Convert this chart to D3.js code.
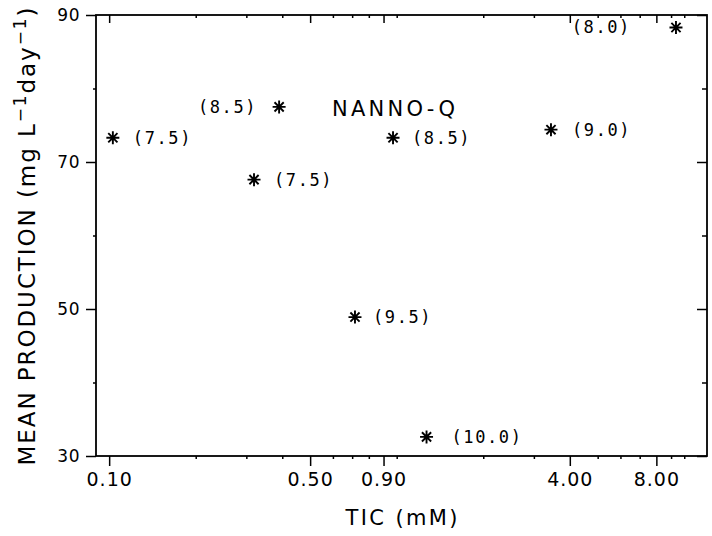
<!DOCTYPE html>
<html>
<head>
<meta charset="utf-8">
<script src="https://cdn.jsdelivr.net/npm/d3@7"></script>
<style>
  html, body { margin: 0; padding: 0; background: #fff; }
  svg { display: block; }
  text { fill: #000; }
</style>
</head>
<body>
<svg id="chart" width="712" height="536"></svg>
<script>
// ---- data ----
const tic        = [0.103, 0.390, 0.319, 0.971, 3.44, 9.36, 0.716, 1.27];
const production = [73.3, 77.5, 67.6, 73.3, 74.4, 88.3, 48.9, 32.6];
const phLabels   = ["(7.5)", "(8.5)", "(7.5)", "(8.5)", "(9.0)", "(8.0)", "(9.5)", "(10.0)"];
const xTickValues = [0.10, 0.50, 0.90, 4.00, 8.00];
const yTickValues = [30, 50, 70, 90];
const yMinorValues = [40, 60, 80];
const seriesName = "NANNO-Q";

// ---- layout (not data) ----
const labelDx = [20, -22, 20, 19, 21, -45, 18, 25];
const L = 96, R = 707, T = 15, B = 456;

const svg = d3.select("#chart");
const x = d3.scaleLog().domain([0.09, 12]).range([L, R]);
const y = d3.scaleLinear().domain([30, 90]).range([B, T]);

const xMinor = d3.range(1, 10).map(d => d / 10).concat(d3.range(1, 11))
  .filter(v => !xTickValues.some(t => Math.abs(t - v) < 1e-9));

const font = "'DejaVu Sans', sans-serif";

// bottom axis
const gB = svg.append("g").attr("transform", `translate(0,${B})`);
gB.call(d3.axisBottom(x).tickValues(xTickValues).tickFormat(d3.format(".2f")).tickSize(10).tickSizeOuter(0).tickPadding(7));
gB.append("g").call(d3.axisBottom(x).tickValues(xMinor).tickSize(3).tickFormat("").tickSizeOuter(0));
// top axis (inward)
const gT = svg.append("g").attr("transform", `translate(0,${T})`);
gT.call(d3.axisBottom(x).tickValues(xTickValues).tickFormat("").tickSize(8).tickSizeOuter(0));
gT.append("g").call(d3.axisBottom(x).tickValues(xMinor).tickFormat("").tickSize(3).tickSizeOuter(0));
// left axis
const gL = svg.append("g").attr("transform", `translate(${L},0)`);
gL.call(d3.axisLeft(y).tickValues(yTickValues).tickFormat(d3.format("d")).tickSize(10).tickSizeOuter(0).tickPadding(6));
gL.append("g").call(d3.axisLeft(y).tickValues(yMinorValues).tickFormat("").tickSize(3).tickSizeOuter(0));
// right axis (inward)
const gR = svg.append("g").attr("transform", `translate(${R},0)`);
gR.call(d3.axisLeft(y).tickValues(yTickValues).tickFormat("").tickSize(10).tickSizeOuter(0));
gR.append("g").call(d3.axisLeft(y).tickValues(yMinorValues).tickFormat("").tickSize(5).tickSizeOuter(0));

svg.selectAll(".domain").remove();
svg.selectAll(".tick line").attr("stroke", "#000").attr("stroke-width", 1.5);

gB.selectAll(".tick text").attr("font-family", font).attr("font-size", 19).attr("letter-spacing", 1).attr("fill", "#000");
gL.selectAll(".tick text").attr("font-family", font).attr("font-size", 17).attr("letter-spacing", 0.5).attr("fill", "#000");

// frame
svg.append("rect").attr("x", L).attr("y", T).attr("width", R - L).attr("height", B - T)
  .attr("fill", "none").attr("stroke", "#000").attr("stroke-width", 1.8);

// axis titles
svg.append("text")
  .attr("x", (L + R) / 2).attr("y", 525)
  .attr("text-anchor", "middle")
  .attr("font-family", font).attr("font-size", 21)
  .attr("textLength", 112).attr("lengthAdjust", "spacing")
  .text("TIC (mM)");

const yt = svg.append("text")
  .attr("transform", `translate(35,${(T + B) / 2}) rotate(-90)`)
  .attr("text-anchor", "middle")
  .attr("font-family", font).attr("font-size", 23);
yt.append("tspan").text("MEAN PRODUCTION (mg L");
yt.append("tspan").attr("font-size", 17).attr("dy", -9).text("\u22121");
yt.append("tspan").attr("dy", 9).text("day");
yt.append("tspan").attr("font-size", 17).attr("dy", -9).text("\u22121");
yt.append("tspan").attr("dy", 9).text(")");
(function fit() {
  const target = 460;
  const len = yt.node().getComputedTextLength();
  const n = yt.text().length;
  yt.attr("letter-spacing", (target - len) / n);
})();

// series name
svg.append("text")
  .attr("x", 332).attr("y", 116)
  .attr("font-family", font).attr("font-size", 21)
  .attr("textLength", 123).attr("lengthAdjust", "spacing")
  .text(seriesName);

// points
const pts = tic.map((t, i) => ({ t, p: production[i], label: phLabels[i], dx: labelDx[i] }));
const star = (r) => {
  const a = r * Math.SQRT1_2;
  return `M0,${-r}L0,${r}M${-r},0L${r},0M${-a},${-a}L${a},${a}M${-a},${a}L${a},${-a}`;
};
const g = svg.append("g");
g.selectAll("path.pt").data(pts).join("path")
  .attr("class", "pt")
  .attr("transform", d => `translate(${x(d.t)},${y(d.p)})`)
  .attr("d", star(6.5))
  .attr("stroke", "#000").attr("stroke-width", 1.9).attr("fill", "none");

g.selectAll("text.lbl").data(pts).join("text")
  .attr("class", "lbl")
  .attr("x", d => x(d.t) + d.dx)
  .attr("y", d => y(d.p))
  .attr("dy", "0.35em")
  .attr("text-anchor", d => d.dx < 0 ? "end" : "start")
  .attr("font-family", "'DejaVu Sans Mono', monospace")
  .attr("font-size", 17)
  .attr("letter-spacing", 1.6)
  .text(d => d.label);
</script>
</body>
</html>
